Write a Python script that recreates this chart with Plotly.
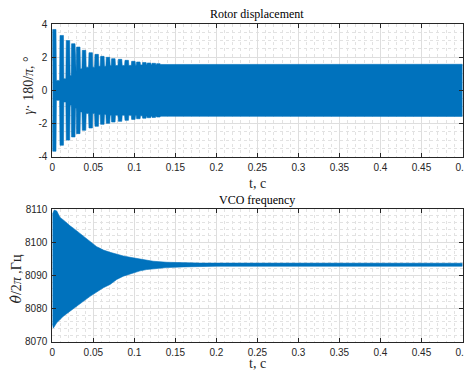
import numpy as np
import plotly.graph_objects as go

# ---------------- data ----------------
# Rotor displacement: envelope of a dense oscillation (symmetric about 0)
top_start_amp = 1.8
top_spike_t = [0.0024, 0.0115, 0.0191, 0.0256, 0.0317, 0.0387, 0.0468, 0.0541, 0.0610,
               0.0679, 0.0744, 0.0826, 0.0907, 0.0988, 0.1049, 0.1122, 0.1179, 0.1237,
               0.1293, 0.1354, 0.1415, 0.1480, 0.1550]
top_spike_amp = [3.67, 3.31, 3.00, 2.81, 2.61, 2.41, 2.27, 2.17, 2.05, 1.99, 1.91, 1.87,
                 1.81, 1.75, 1.71, 1.68, 1.65, 1.63, 1.61, 1.60, 1.59, 1.58, 1.58]
top_valley_amp = [0.6, 0.7, 0.9, 1.1, 1.3, 1.4, 1.4, 1.45, 1.45, 1.5, 1.5, 1.5, 1.5,
                  1.52, 1.53, 1.54, 1.55, 1.55, 1.56, 1.56, 1.57, 1.57, 1.57]
top_steady_amp = 1.57
t_end = 0.5

# VCO frequency: upper and lower envelopes
bot_upper_t = [0, 0.0024, 0.0054, 0.0094, 0.0134, 0.0175, 0.0216, 0.0256, 0.0297, 0.0338,
               0.0378, 0.0419, 0.0460, 0.0500, 0.0541, 0.0582, 0.0622, 0.0704, 0.0785,
               0.0866, 0.0948, 0.1029, 0.115, 0.123, 0.1395, 0.16, 0.18, 0.5]
bot_upper = [8108.5, 8109.8, 8109.5, 8107.5, 8106.8, 8105.8, 8105.0, 8104.3, 8103.5, 8102.7,
             8101.7, 8100.9, 8100.2, 8099.4, 8098.7, 8098.2, 8097.7, 8097.0, 8096.4,
             8095.9, 8095.5, 8095.2, 8094.6, 8094.3, 8094.0, 8093.8, 8093.75, 8093.7]
bot_lower_t = [0, 0.0012, 0.0054, 0.0134, 0.0216, 0.0297, 0.0378, 0.0460, 0.0541, 0.0622,
               0.0704, 0.0785, 0.0866, 0.0948, 0.107, 0.115, 0.123, 0.1395, 0.16, 0.18,
               0.2, 0.5]
bot_lower = [8075.5, 8074.1, 8075.7, 8077.7, 8079.2, 8080.7, 8082.2, 8083.7, 8085.1, 8086.3,
             8087.3, 8088.8, 8089.8, 8090.5, 8091.4, 8091.8, 8092.1, 8092.4, 8092.6, 8092.8,
             8092.8, 8092.8]

x_tickvals = [0, 0.05, 0.1, 0.15, 0.2, 0.25, 0.3, 0.35, 0.4, 0.45, 0.5]
x_ticktext = ["0", "0.05", "0.1", "0.15", "0.2", "0.25", "0.3", "0.35", "0.4", "0.45", "0.5"]
top_yticks = [-4, -2, 0, 2, 4]
bot_yticks = [8070, 8080, 8090, 8100, 8110]

# ---------------- build the top envelope polygon ----------------
w = 0.0021   # half width of a spike column
s = 0.0005   # slope width
ut, uy = [0.0], [top_start_amp]
prev = top_start_amp
for ti, a, v in zip(top_spike_t, top_spike_amp, top_valley_amp):
    left = max(ti - w - s, ut[-1] + 1e-5)
    ut += [left, max(ti - w, left + 1e-5), ti + w, ti + w + s]
    uy += [prev, a, a, v]
    prev = v
ut += [t_end]
uy += [top_steady_amp]
ut = np.array(ut); uy = np.array(uy)
top_x = np.concatenate([ut, ut[::-1]])
top_y = np.concatenate([uy, -uy[::-1]])

bot_x = np.concatenate([np.array(bot_upper_t), np.array(bot_lower_t)[::-1]])
bot_y = np.concatenate([np.array(bot_upper), np.array(bot_lower)[::-1]])

BLUE = "#0072BD"
fig = go.Figure()
fig.add_trace(go.Scatter(x=top_x, y=top_y, mode="lines", fill="toself", fillcolor=BLUE,
                         line=dict(color=BLUE, width=0.6), xaxis="x", yaxis="y",
                         hoverinfo="skip", showlegend=False))
fig.add_trace(go.Scatter(x=bot_x, y=bot_y, mode="lines", fill="toself", fillcolor=BLUE,
                         line=dict(color=BLUE, width=0.6), xaxis="x2", yaxis="y2",
                         hoverinfo="skip", showlegend=False))

W, H = 464, 371
xl, xr = 52.3, 462.5
top_t, top_b = 24.0, 156.7
bot_t, bot_b = 209.3, 341.7
AX = "#262626"
tickfont = dict(family="Liberation Sans, Arial, sans-serif", size=10, color=AX)

def xaxis_cfg(anchor):
    return dict(domain=[xl / W, xr / W], range=[0, 0.5], anchor=anchor,
                tickmode="array", tickvals=x_tickvals, ticktext=x_ticktext,
                ticks="inside", ticklen=4, tickwidth=1, tickcolor=AX,
                showline=True, linecolor=AX, linewidth=1, mirror="allticks",
                showgrid=True, gridcolor="#dedede", gridwidth=1, zeroline=False,
                minor=dict(dtick=0.01, tick0=0, showgrid=True, gridcolor="#e2e2e2",
                           griddash="dot", gridwidth=1, ticks=""),
                tickfont=tickfont, automargin=False, fixedrange=True,
                ticklabeloverflow="allow", ticklabelstandoff=1)

def yaxis_cfg(anchor, dom, rng, tv, mdt):
    return dict(domain=dom, range=rng, anchor=anchor,
                tickmode="array", tickvals=tv, ticktext=[str(v) for v in tv],
                ticks="inside", ticklen=4, tickwidth=1, tickcolor=AX,
                showline=True, linecolor=AX, linewidth=1, mirror="allticks",
                showgrid=True, gridcolor="#dedede", gridwidth=1, zeroline=False,
                minor=dict(dtick=mdt, tick0=rng[0], showgrid=True, gridcolor="#e2e2e2",
                           griddash="dot", gridwidth=1, ticks=""),
                tickfont=tickfont, automargin=False, fixedrange=True,
                ticklabeloverflow="allow", ticklabelstandoff=2)

serif = "Liberation Serif, Times New Roman, serif"
ann = []
cx = (xl + xr) / 2 / W
ann.append(dict(text="Rotor displacement", x=cx, y=1 - 14 / H, xref="paper", yref="paper",
                xanchor="center", yanchor="middle", showarrow=False,
                font=dict(family=serif, size=12, color="black")))
ann.append(dict(text="VCO frequency", x=cx, y=1 - 200 / H, xref="paper", yref="paper",
                xanchor="center", yanchor="middle", showarrow=False,
                font=dict(family=serif, size=12, color="black")))
ann.append(dict(text="t, с", x=cx, y=1 - 183 / H, xref="paper", yref="paper",
                xanchor="center", yanchor="middle", showarrow=False,
                font=dict(family=serif, size=14, color=AX)))
ann.append(dict(text="t, с", x=cx, y=1 - 363.5 / H, xref="paper", yref="paper",
                xanchor="center", yanchor="middle", showarrow=False,
                font=dict(family=serif, size=14, color=AX)))
ann.append(dict(text="<i>γ</i>· 180/<i>π</i>, °", x=27.5 / W, y=1 - 86 / H,
                xref="paper", yref="paper", xanchor="center", yanchor="middle",
                textangle=-90, showarrow=False,
                font=dict(family=serif, size=14, color=AX)))
ann.append(dict(text="<span style=\"font-family:'DejaVu Serif'\"><i>θ̇</i></span>/2<i>π</i> ,Гц",
                x=15.5 / W, y=1 - 279 / H,
                xref="paper", yref="paper", xanchor="center", yanchor="middle",
                textangle=-90, showarrow=False,
                font=dict(family=serif, size=14, color=AX)))

fig.update_layout(
    template="none", width=W, height=H, autosize=False,
    margin=dict(l=0, r=0, t=0, b=0, pad=0),
    paper_bgcolor="white", plot_bgcolor="white", showlegend=False,
    xaxis=xaxis_cfg("y"),
    yaxis=yaxis_cfg("x", [1 - top_b / H, 1 - top_t / H], [-4, 4], top_yticks, 0.5),
    xaxis2=xaxis_cfg("y2"),
    yaxis2=yaxis_cfg("x2", [1 - bot_b / H, 1 - bot_t / H], [8070, 8110], bot_yticks, 2),
    annotations=ann,
)

fig.write_html("out.html", config=dict(displayModeBar=False, staticPlot=True),
               post_script="document.body.style.margin='0';document.body.style.padding='0';"
                           "document.body.style.overflow='hidden';")
